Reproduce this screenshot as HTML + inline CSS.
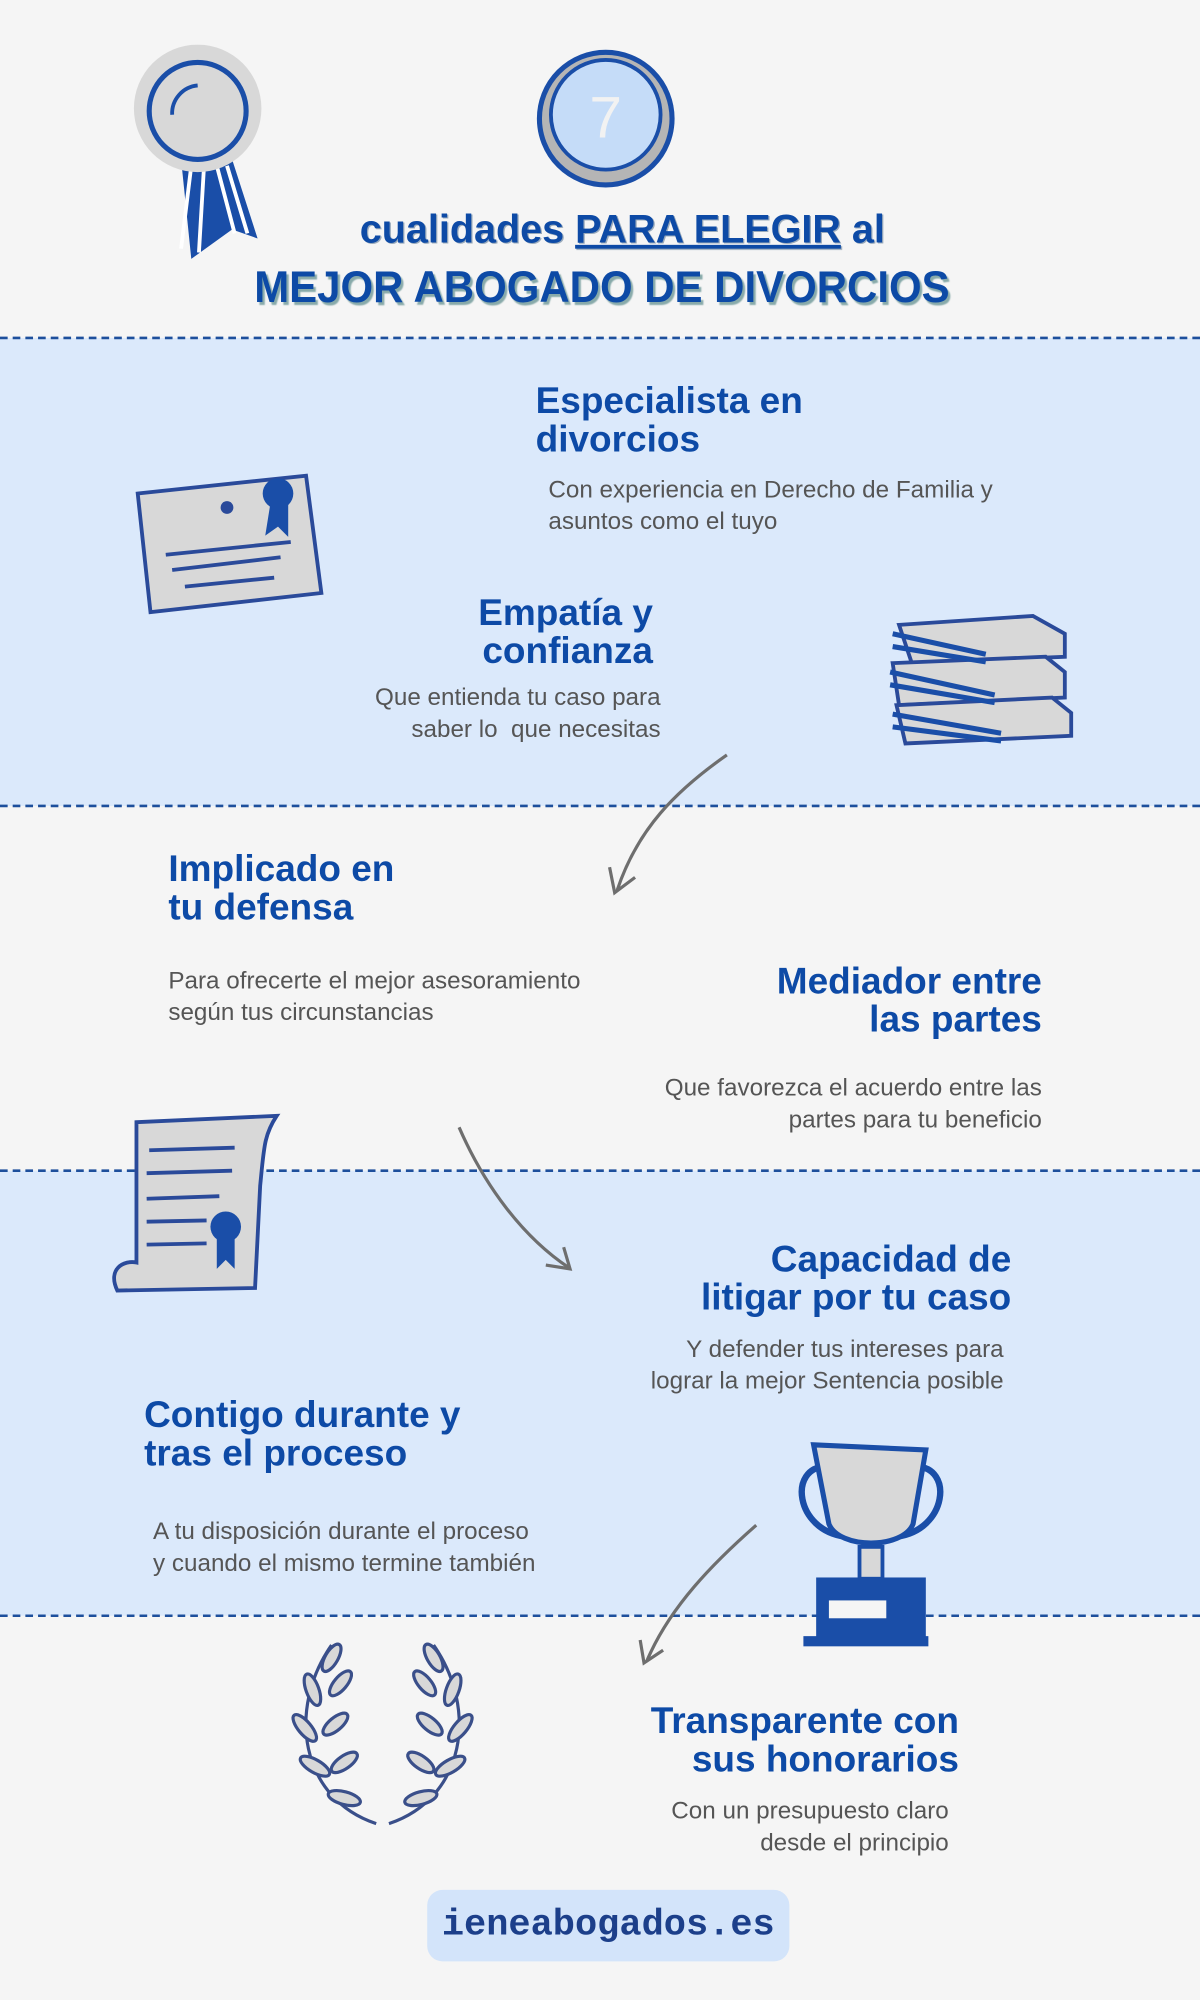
<!DOCTYPE html>
<html><head><meta charset="utf-8"><style>
html,body{margin:0;padding:0;width:1200px;height:2000px;overflow:hidden;background:#f5f5f5}
#w{position:absolute;left:0;top:0;width:941px;height:1568px;transform:scale(1.27524);transform-origin:0 0;font-family:"Liberation Sans",sans-serif}
.band{position:absolute;left:0;width:941px;background:#dbe9fb}
.dash{position:absolute;left:0;width:941px;height:0;border-top:2px dashed #1d4f9c}
.h{position:absolute;font-size:29px;font-weight:bold;color:#0d4aa6;line-height:30px;white-space:nowrap}
.d{position:absolute;font-size:19px;color:#555;line-height:25px;white-space:nowrap}
.r{text-align:right}
svg{position:absolute}
</style></head><body><div id="w">
<div class="band" style="top:265px;height:367px"></div>
<div class="band" style="top:918px;height:349px"></div>
<div class="dash" style="top:264px"></div>
<div class="dash" style="top:631px"></div>
<div class="dash" style="top:917px"></div>
<div class="dash" style="top:1266px"></div>

<!-- rosette -->
<svg style="left:100px;top:35px" width="110" height="170" viewBox="0 0 110 170">
<polygon points="42,90 82,90 102,152 82,145 50,168" fill="#1a4ea8"/>
<path d="M50,95 L42,160 M60,95 L56,163 M70,95 L84,148 M78,95 L94,148" stroke="#fff" stroke-width="3"/>
<circle cx="55" cy="50" r="50" fill="#d8d8d8"/>
<circle cx="55" cy="52" r="38" fill="#d8d8d8" stroke="#1a4ea8" stroke-width="4"/>
<path d="M35,55 A22,22 0 0 1 55,32" fill="none" stroke="#1a4ea8" stroke-width="3"/>
</svg>
<!-- 7 circle -->
<svg style="left:420px;top:38px" width="110" height="110">
<circle cx="55" cy="55" r="52" fill="#b5b5b5" stroke="#1a4ea8" stroke-width="4"/>
<circle cx="55" cy="52" r="43" fill="#c5dcf8" stroke="#1a4ea8" stroke-width="3"/>
<text x="55" y="70" font-family="Liberation Sans" font-size="46" fill="#f2f2f2" text-anchor="middle">7</text>
</svg>
<div class="h" style="left:0;width:976px;text-align:center;top:164px;font-size:31px;line-height:32px;text-shadow:1px 1px 0 #9ab">cualidades <span style="text-decoration:underline">PARA ELEGIR</span> al</div>
<div class="h" style="left:0;width:944px;text-align:center;top:207px;font-size:35px;line-height:38px;text-shadow:2px 2px 1px #8aa;transform:scaleX(0.94);transform-origin:472px 0">MEJOR ABOGADO DE DIVORCIOS</div>

<div class="h" style="left:420px;top:300px">Especialista en<br>divorcios</div>
<div class="d" style="left:430px;top:372px">Con experiencia en Derecho de Familia y<br>asuntos como el tuyo</div>
<div class="h r" style="right:429px;top:466px">Empatía y<br>confianza</div>
<div class="d r" style="right:423px;top:535px">Que entienda tu caso para<br>saber lo &nbsp;que necesitas</div>
<div class="h" style="left:132px;top:667px">Implicado en<br>tu defensa</div>
<div class="d" style="left:132px;top:757px">Para ofrecerte el mejor asesoramiento<br>según tus circunstancias</div>
<div class="h r" style="right:124px;top:755px">Mediador entre<br>las partes</div>
<div class="d r" style="right:124px;top:841px">Que favorezca el acuerdo entre las<br>partes para tu beneficio</div>
<div class="h r" style="right:148px;top:973px">Capacidad de<br>litigar por tu caso</div>
<div class="d r" style="right:154px;top:1046px">Y defender tus intereses para<br>lograr la mejor Sentencia posible</div>
<div class="h" style="left:113px;top:1095px">Contigo durante y<br>tras el proceso</div>
<div class="d" style="left:120px;top:1189px">A tu disposición durante el proceso<br>y cuando el mismo termine también</div>
<div class="h r" style="right:189px;top:1335px">Transparente con<br>sus honorarios</div>
<div class="d r" style="right:197px;top:1408px">Con un presupuesto claro<br>desde el principio</div>

<!-- certificate -->
<svg style="left:100px;top:365px" width="160" height="120">
<polygon points="8,22 140,8 152,100 18,115" fill="#d8d8d8" stroke="#2a4a9a" stroke-width="3"/>
<line x1="35" y1="82" x2="120" y2="72" stroke="#2a4a9a" stroke-width="3"/>
<line x1="30" y1="70" x2="128" y2="60" stroke="#2a4a9a" stroke-width="3"/>
<line x1="45" y1="95" x2="115" y2="88" stroke="#2a4a9a" stroke-width="3"/>
<circle cx="78" cy="33" r="5" fill="#2a4a9a"/>
<circle cx="118" cy="22" r="12" fill="#1a4ea8"/>
<polygon points="112,30 108,55 118,48 126,56 126,30" fill="#1a4ea8"/>
</svg>
<!-- books -->
<svg style="left:695px;top:475px" width="150" height="115">
<g fill="#d8d8d8" stroke="#2a4a9a" stroke-width="3">
<path d="M10,15 L115,8 L140,22 L140,40 L20,45 Z"/>
<path d="M5,45 L125,40 L140,52 L140,72 L10,78 Z"/>
<path d="M8,78 L130,72 L145,84 L145,102 L15,108 Z"/>
</g>
<g stroke="#1a4ea8" stroke-width="4">
<line x1="5" y1="22" x2="78" y2="38"/><line x1="5" y1="32" x2="78" y2="44"/>
<line x1="3" y1="52" x2="85" y2="70"/><line x1="3" y1="62" x2="85" y2="76"/>
<line x1="5" y1="85" x2="90" y2="100"/><line x1="5" y1="95" x2="90" y2="106"/>
</g>
</svg>
<!-- scroll -->
<svg style="left:82px;top:870px" width="145" height="150">
<path d="M25,10 L135,5 C125,20 125,30 122,60 L118,140 L10,142 C2,125 15,118 25,120 Z" fill="#d8d8d8" stroke="#2a4a9a" stroke-width="3"/>
<g stroke="#2a4a9a" stroke-width="3"><line x1="35" y1="32" x2="102" y2="30"/><line x1="33" y1="50" x2="100" y2="48"/><line x1="33" y1="70" x2="90" y2="68"/><line x1="33" y1="88" x2="80" y2="87"/><line x1="33" y1="106" x2="80" y2="105"/></g>
<circle cx="95" cy="92" r="12" fill="#1a4ea8"/>
<polygon points="88,100 88,125 95,118 102,125 102,100" fill="#1a4ea8"/>
</svg>
<!-- trophy -->
<svg style="left:618px;top:1125px" width="130" height="175">
<path d="M30,25 C0,25 5,75 45,80 M100,25 C130,25 125,75 85,80" fill="none" stroke="#1a4ea8" stroke-width="5"/>
<path d="M20,8 L108,12 L98,70 C90,90 40,90 32,70 Z" fill="#d8d8d8" stroke="#1a4ea8" stroke-width="4"/>
<rect x="56" y="88" width="18" height="25" fill="#d8d8d8" stroke="#1a4ea8" stroke-width="3"/>
<rect x="22" y="112" width="86" height="50" fill="#1a4ea8"/>
<rect x="32" y="130" width="45" height="14" fill="#f5f5f5"/>
<rect x="12" y="158" width="98" height="8" fill="#1a4ea8"/>
</svg>
<!-- laurel -->
<svg style="left:215px;top:1280px" width="170" height="160" fill="#d8d8d8" stroke="#3a4f8a" stroke-width="2.5">
<path d="M80,150 C20,130 10,60 45,10" fill="none"/>
<path d="M90,150 C150,130 160,60 125,10" fill="none"/>
<g>
<ellipse cx="45" cy="20" rx="5" ry="12" transform="rotate(30 45 20)"/>
<ellipse cx="30" cy="45" rx="5" ry="13" transform="rotate(-20 30 45)"/>
<ellipse cx="24" cy="75" rx="5" ry="13" transform="rotate(-40 24 75)"/>
<ellipse cx="32" cy="105" rx="5" ry="13" transform="rotate(-60 32 105)"/>
<ellipse cx="55" cy="130" rx="5" ry="13" transform="rotate(-75 55 130)"/>
<ellipse cx="52" cy="40" rx="5" ry="12" transform="rotate(40 52 40)"/>
<ellipse cx="48" cy="72" rx="5" ry="12" transform="rotate(50 48 72)"/>
<ellipse cx="55" cy="102" rx="5" ry="12" transform="rotate(55 55 102)"/>
<ellipse cx="125" cy="20" rx="5" ry="12" transform="rotate(-30 125 20)"/>
<ellipse cx="140" cy="45" rx="5" ry="13" transform="rotate(20 140 45)"/>
<ellipse cx="146" cy="75" rx="5" ry="13" transform="rotate(40 146 75)"/>
<ellipse cx="138" cy="105" rx="5" ry="13" transform="rotate(60 138 105)"/>
<ellipse cx="115" cy="130" rx="5" ry="13" transform="rotate(75 115 130)"/>
<ellipse cx="118" cy="40" rx="5" ry="12" transform="rotate(-40 118 40)"/>
<ellipse cx="122" cy="72" rx="5" ry="12" transform="rotate(-50 122 72)"/>
<ellipse cx="115" cy="102" rx="5" ry="12" transform="rotate(-55 115 102)"/>
</g>
</svg>
<!-- arrows -->
<svg style="left:0;top:0" width="941" height="1568" fill="none" stroke="#6e6e6e" stroke-width="2.5">
<path d="M570,592 C530,620 500,650 484,698"/><path d="M478,680 L482,700 L498,688"/>
<path d="M360,884 C380,930 410,970 446,994"/><path d="M428,992 L447,995 L442,978"/>
<path d="M593,1196 C560,1225 525,1260 507,1303"/><path d="M502,1286 L505,1304 L520,1294"/>
</svg>
<div style="position:absolute;left:335px;top:1482px;width:284px;height:56px;background:#d3e4fa;border-radius:12px;text-align:center;line-height:56px;font-family:'Liberation Mono',monospace;font-weight:bold;font-size:29px;color:#1c3f8a">ieneabogados.es</div>
</div></body></html>
